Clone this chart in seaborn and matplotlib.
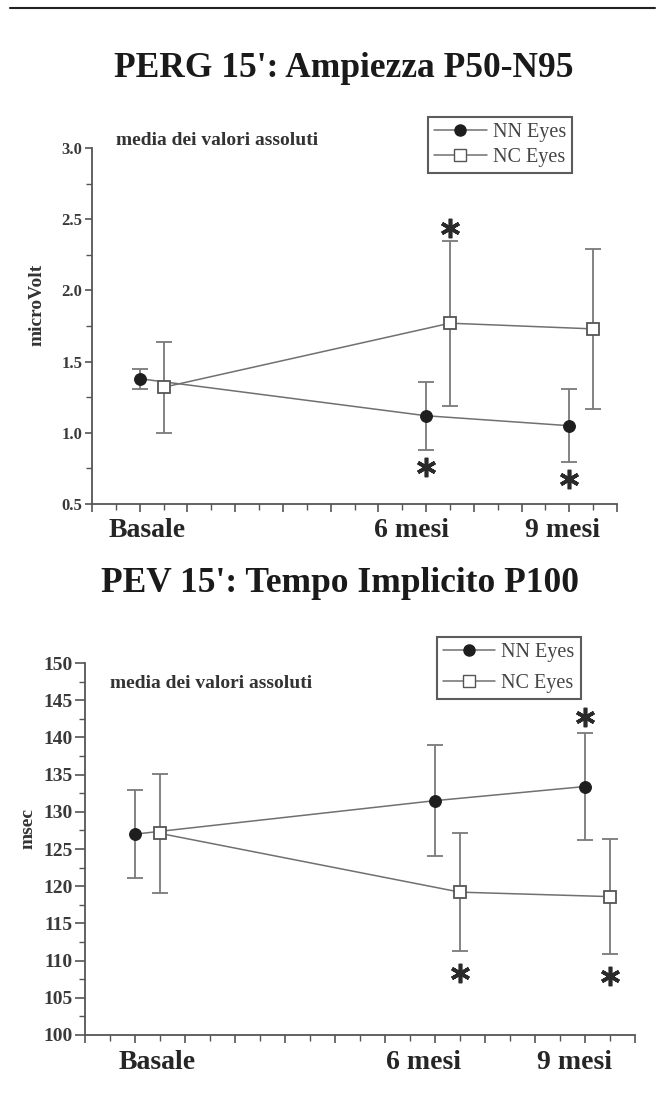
import numpy as np
import pandas as pd
import matplotlib
matplotlib.use("Agg")
import matplotlib.pyplot as plt
from matplotlib.lines import Line2D
import seaborn as sns

# Data
timepoints = ["Basale", "6 mesi", "9 mesi"]
groups = ["NN Eyes", "NC Eyes"]

perg_nn = [1.38, 1.12, 1.05]
perg_nn_err = [0.07, 0.24, 0.255]
perg_nc = [1.32, 1.77, 1.73]
perg_nc_err = [0.32, 0.58, 0.56]

pev_nn = [127.0, 131.5, 133.4]
pev_nn_err = [5.9, 7.5, 7.2]
pev_nc = [127.1, 119.2, 118.6]
pev_nc_err = [8.0, 7.9, 7.7]

# significance marks: (group, timepoint index, side)
perg_stars = [("NC Eyes", 1, "up"), ("NN Eyes", 1, "down"), ("NN Eyes", 2, "down")]
pev_stars = [("NN Eyes", 2, "up"), ("NC Eyes", 1, "down"), ("NC Eyes", 2, "down")]

# layout on the numeric x axis
x_base = [1, 7, 10]
x_shift = {"NN Eyes": 0.0, "NC Eyes": 0.5}

sns.set_style("ticks")
plt.rcParams["font.family"] = ["Liberation Serif", "DejaVu Serif"]
plt.rcParams["font.weight"] = "bold"

line_col = "#707070"
axis_col = "#555555"
text_col = "#262626"


def build_df(nn, nn_err, nc, nc_err):
    rows = []
    for g, vals, errs in [("NN Eyes", nn, nn_err), ("NC Eyes", nc, nc_err)]:
        for i, t in enumerate(timepoints):
            rows.append({"group": g, "time": t, "x": x_base[i] + x_shift[g],
                         "value": vals[i], "err": errs[i]})
    return pd.DataFrame(rows)


def draw_panel(ax, df, stars, gap_up, gap_down, ylim, ymajor, yminor, ylabel, ylab_pos,
               xlabel_pos, tick_size, tick_len, note_y, leg_box, leg_spacing):
    # error bars
    for g in groups:
        d = df[df["group"] == g]
        ax.errorbar(d["x"], d["value"], yerr=d["err"], fmt="none",
                    ecolor="#7a7a7a", elinewidth=1.3, capsize=6, capthick=1.3, zorder=2)
    # lines + markers
    sns.lineplot(data=df, x="x", y="value", hue="group", style="group",
                 markers={"NN Eyes": "o", "NC Eyes": "s"}, dashes=False,
                 palette={"NN Eyes": line_col, "NC Eyes": line_col},
                 linewidth=1.1, markersize=9, legend=False, ax=ax, zorder=3)
    for ln in ax.get_lines():
        if ln.get_marker() == "o":
            ln.set_markerfacecolor("#1e1e1e")
            ln.set_markeredgecolor("#1e1e1e")
            ln.set_markersize(8.5)
        elif ln.get_marker() == "s":
            ln.set_markerfacecolor("white")
            ln.set_markeredgecolor("#555555")
            ln.set_markeredgewidth(1.3)

    # asterisks
    for g, i, side in stars:
        row = df[(df["group"] == g) & (df["time"] == timepoints[i])].iloc[0]
        if side == "up":
            y = row["value"] + row["err"] + gap_up
        else:
            y = row["value"] - row["err"] - gap_down
        ax.plot([row["x"]], [y], marker=(6, 2, 0), markersize=14, mew=2.6,
                color="#2a2a2a", linestyle="none", zorder=4)

    ax.set_xlim(0, 11)
    ax.set_ylim(*ylim)
    ax.set_xticks(np.arange(0, 12, 1))
    ax.set_xticks(np.arange(0.5, 11, 1), minor=True)
    ax.set_xticklabels([])
    ax.set_yticks(ymajor)
    ax.set_yticks(yminor, minor=True)
    ax.tick_params(axis="y", which="major", labelsize=tick_size, length=tick_len,
                   width=1.2, color=axis_col, labelcolor="#3a3a3a", pad=2)
    ax.tick_params(axis="y", which="minor", length=4, width=1.0, color=axis_col)
    ax.tick_params(axis="x", which="major", length=6, width=1.2, color=axis_col)
    ax.tick_params(axis="x", which="minor", length=4, width=1.0, color=axis_col)
    for lab in ax.get_yticklabels():
        lab.set_fontweight("bold")
    sns.despine(ax=ax)
    for s in ["left", "bottom"]:
        ax.spines[s].set_color(axis_col)
        ax.spines[s].set_linewidth(1.3)
    ax.set_xlabel("")
    ax.set_ylabel("")

    ax.text(ylab_pos[0], ylab_pos[1], ylabel, transform=ax.transAxes, rotation=90,
            ha="center", va="center", fontsize=14, fontweight="bold", color="#333333")

    for t, xp in zip(timepoints, xlabel_pos):
        ax.text(xp, -0.075, t, transform=ax.get_xaxis_transform(), ha="center",
                va="center", fontsize=20, fontweight="bold", color=text_col)

    ax.text(0.045, note_y, "media dei valori assoluti", transform=ax.transAxes,
            ha="left", va="center", fontsize=14, fontweight="bold", color="#333333")

    handles = [Line2D([0], [0], color=line_col, lw=1.1, marker="o", markersize=8,
                      markerfacecolor="#1e1e1e", markeredgecolor="#1e1e1e"),
               Line2D([0], [0], color=line_col, lw=1.1, marker="s", markersize=8,
                      markerfacecolor="white", markeredgecolor="#555555")]
    leg = ax.legend(handles, groups, loc="upper left", bbox_to_anchor=leg_box,
                    bbox_transform=ax.figure.transFigure, frameon=True, fancybox=False,
                    prop={"family": "Liberation Serif", "weight": "normal", "size": 14.5},
                    handlelength=2.6, handletextpad=0.3, borderpad=0.3,
                    labelspacing=leg_spacing, borderaxespad=0)
    leg.get_frame().set_edgecolor("#333333")
    leg.get_frame().set_linewidth(1.5)
    for txt in leg.get_texts():
        txt.set_color("#444444")


fig = plt.figure(figsize=(6.67, 10.95), dpi=100)

# top rule
fig.add_artist(Line2D([0.015, 0.982], [0.9925, 0.9925], color="#222222", lw=1.5,
                      transform=fig.transFigure))

fig.text(0.515, 0.937, "PERG 15': Ampiezza P50-N95", ha="center", va="center",
         fontsize=25.5, fontweight="bold", color="#1a1a1a")
fig.text(0.51, 0.467, "PEV 15': Tempo Implicito P100", ha="center", va="center",
         fontsize=25.5, fontweight="bold", color="#1a1a1a")

ax1 = fig.add_axes([0.138, 0.5397, 0.787, 0.3251])
df1 = build_df(perg_nn, perg_nn_err, perg_nc, perg_nc_err)
draw_panel(ax1, df1, perg_stars, 0.09, 0.12, (0.5, 3.0), np.arange(0.5, 3.01, 0.5),
           np.arange(0.75, 3.0, 0.5), "microVolt", (-0.105, 0.56), [1.15, 6.7, 9.85],
           12, 5, 1.02, (0.642, 0.893), 0.3)

ax2 = fig.add_axes([0.1274, 0.0548, 0.8246, 0.3397])
df2 = build_df(pev_nn, pev_nn_err, pev_nc, pev_nc_err)
draw_panel(ax2, df2, pev_stars, 2.2, 3.0, (100, 150), np.arange(100, 151, 5),
           np.arange(102.5, 150, 5), "msec", (-0.104, 0.556), [1.44, 6.78, 9.8],
           14, 7, 0.946, (0.655, 0.418), 0.55)

fig.savefig("out.png", dpi=100)
